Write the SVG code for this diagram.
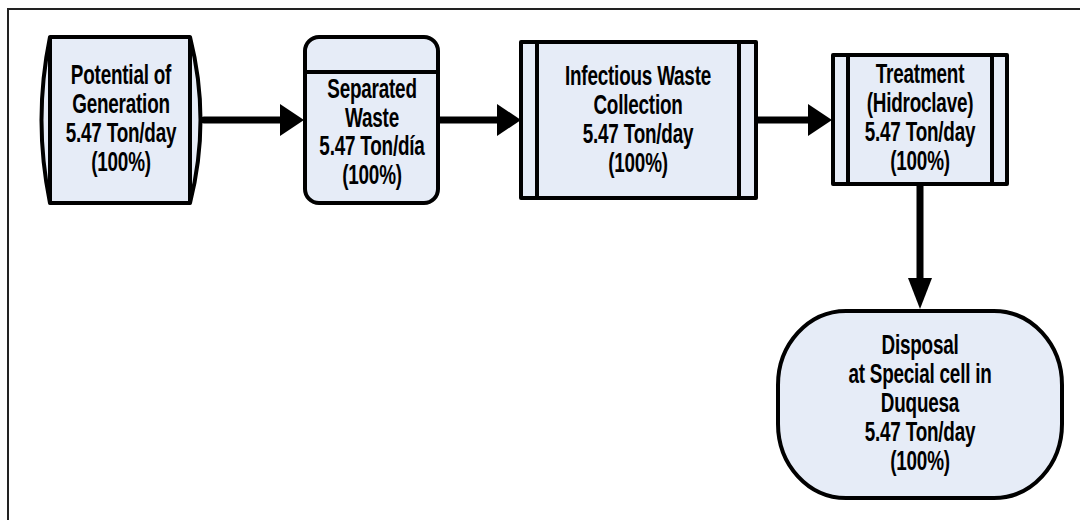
<svg xmlns="http://www.w3.org/2000/svg" width="1080" height="520" viewBox="0 0 1080 520">
  <style>
    .shape { fill: #E6ECF7; stroke: #000; stroke-width: 4; stroke-linejoin: round; }
    .div { fill: none; stroke: #000; stroke-width: 4; }
    .lbl { font-family: "Liberation Sans", Arial, sans-serif; font-weight: bold; font-size: 27px; letter-spacing: -0.3px; text-anchor: middle; fill: #000; }
    .shaft { fill: none; stroke: #000; stroke-width: 7; stroke-linecap: round; }
    .head { fill: #000; stroke: none; }
  </style>

  <rect x="0" y="0" width="1080" height="520" fill="#fff"/>
  <!-- page frame, open on the right and bottom -->
  <path d="M1080 9 H8 V520" fill="none" stroke="#222" stroke-width="2"/>

  <g id="connectors">
    <line class="shaft" x1="204" y1="120" x2="284" y2="120"/>
    <polygon class="head" points="280,104 304,120 280,136"/>
    <line class="shaft" x1="438" y1="120" x2="500" y2="120"/>
    <polygon class="head" points="497,104 521,120 497,136"/>
    <line class="shaft" x1="756" y1="120" x2="811" y2="120"/>
    <polygon class="head" points="808,104 832,120 808,136"/>
    <line class="shaft" x1="920" y1="184" x2="920" y2="282"/>
    <polygon class="head" points="908,278 932,278 920,309"/>
  </g>

  <g id="node-generation">
    <path class="shape" d="M50 37 H190 Q211 120 190 203 H50 Q33 120 50 37 Z"/>
    <path class="div" d="M50 37 V203 M190 37 V203"/>
    <g transform="translate(121 0) scale(0.7 1)">
      <text class="lbl" x="0" y="84">Potential of</text>
      <text class="lbl" x="0" y="113">Generation</text>
      <text class="lbl" x="0" y="142">5.47 Ton/day</text>
      <text class="lbl" x="0" y="171">(100%)</text>
    </g>
  </g>

  <g id="node-separated">
    <rect class="shape" x="305" y="37" width="133" height="166" rx="14"/>
    <path class="div" d="M305 72 H438"/>
    <g transform="translate(372 0) scale(0.7 1)">
      <text class="lbl" x="0" y="98">Separated</text>
      <text class="lbl" x="0" y="127">Waste</text>
      <text class="lbl" x="0" y="155">5.47 Ton/día</text>
      <text class="lbl" x="0" y="184">(100%)</text>
    </g>
  </g>

  <g id="node-collection">
    <rect class="shape" x="521" y="42" width="235" height="156"/>
    <path class="div" d="M537 42 V198 M739 42 V198"/>
    <g transform="translate(638 0) scale(0.7 1)">
      <text class="lbl" x="0" y="85">Infectious Waste</text>
      <text class="lbl" x="0" y="114">Collection</text>
      <text class="lbl" x="0" y="143">5.47 Ton/day</text>
      <text class="lbl" x="0" y="172">(100%)</text>
    </g>
  </g>

  <g id="node-treatment">
    <rect class="shape" x="833" y="55" width="174" height="129"/>
    <path class="div" d="M848 55 V184 M992 55 V184"/>
    <g transform="translate(920 0) scale(0.7 1)">
      <text class="lbl" x="0" y="83">Treatment</text>
      <text class="lbl" x="0" y="112">(Hidroclave)</text>
      <text class="lbl" x="0" y="141">5.47 Ton/day</text>
      <text class="lbl" x="0" y="170">(100%)</text>
    </g>
  </g>

  <g id="node-disposal">
    <rect class="shape" x="778" y="311" width="284" height="187" rx="68" ry="74"/>
    <g transform="translate(920 0) scale(0.7 1)">
      <text class="lbl" x="0" y="354">Disposal</text>
      <text class="lbl" x="0" y="383">at Special cell in</text>
      <text class="lbl" x="0" y="412">Duquesa</text>
      <text class="lbl" x="0" y="441">5.47 Ton/day</text>
      <text class="lbl" x="0" y="470">(100%)</text>
    </g>
  </g>
</svg>
